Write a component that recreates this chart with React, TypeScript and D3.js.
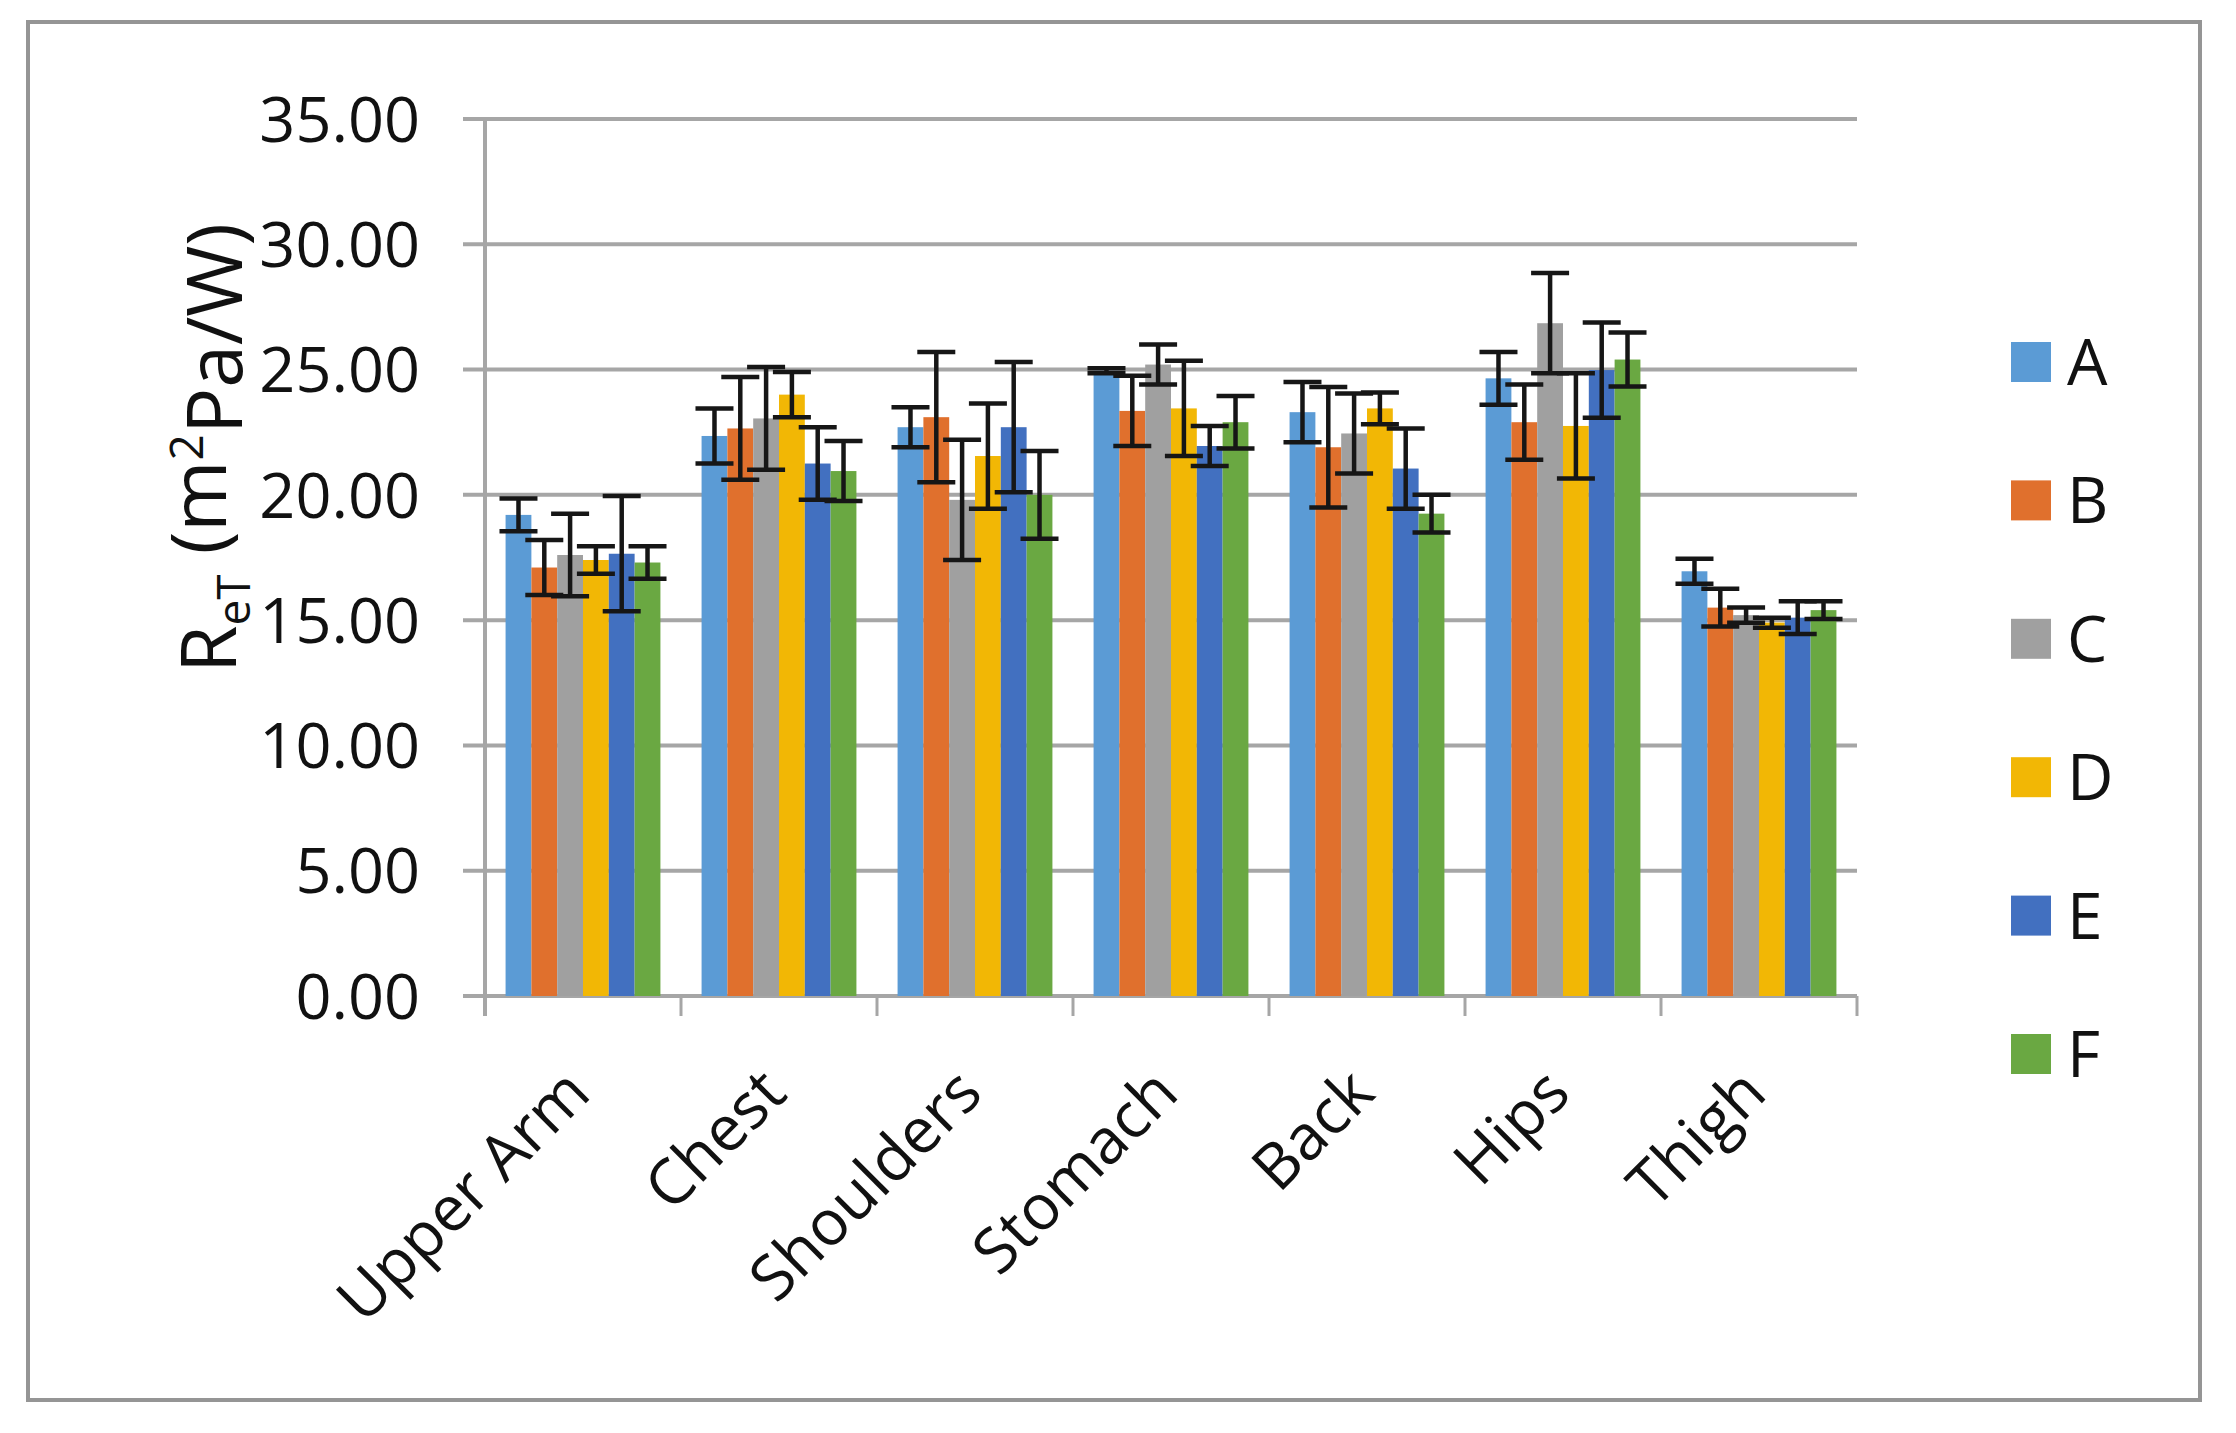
import * as d3 from "d3";

const categories = ["Upper Arm", "Chest", "Shoulders", "Stomach", "Back", "Hips", "Thigh"];
const seriesNames = ["A", "B", "C", "D", "E", "F"];

const valuesA = [19.2, 22.35, 22.7, 24.95, 23.3, 24.65, 16.95];
const valuesB = [17.1, 22.65, 23.1, 23.35, 21.9, 22.9, 15.5];
const valuesC = [17.6, 23.05, 19.8, 25.2, 22.45, 26.85, 15.2];
const valuesD = [17.4, 24.0, 21.55, 23.45, 23.45, 22.75, 14.9];
const valuesE = [17.65, 21.25, 22.7, 21.95, 21.05, 24.98, 15.1];
const valuesF = [17.3, 20.95, 20.0, 22.9, 19.25, 25.4, 15.4];

const errorsA = [0.65, 1.1, 0.8, 0.1, 1.2, 1.05, 0.5];
const errorsB = [1.1, 2.05, 2.6, 1.4, 2.4, 1.5, 0.75];
const errorsC = [1.65, 2.05, 2.4, 0.8, 1.6, 2.0, 0.3];
const errorsD = [0.55, 0.9, 2.1, 1.9, 0.63, 2.1, 0.2];
const errorsE = [2.3, 1.45, 2.6, 0.8, 1.6, 1.9, 0.65];
const errorsF = [0.65, 1.2, 1.75, 1.05, 0.75, 1.08, 0.35];

const yTicks = [0, 5, 10, 15, 20, 25, 30, 35];

const colors = ["#5b9bd5", "#e0702d", "#a0a0a0", "#f2b705", "#4270c0", "#6aa842"];

const values = [valuesA, valuesB, valuesC, valuesD, valuesE, valuesF];
const errors = [errorsA, errorsB, errorsC, errorsD, errorsE, errorsF];

const W = 2236;
const H = 1433;
const font = "'Open Sans', 'DejaVu Sans', sans-serif";

export default function App() {
    const x0 = d3.scaleBand<string>()
        .domain(categories)
        .range([485, 1857])
        .paddingInner(0.21)
        .paddingOuter(0.105);
    const x1 = d3.scaleBand<string>()
        .domain(seriesNames)
        .range([0, x0.bandwidth()]);
    const y = d3.scaleLinear().domain([0, 35]).range([996, 119]);
    const legendY = d3.scalePoint<string>().domain(seriesNames).range([362, 1054]);

    const step = x0.step();
    const left = x0.range()[0];
    const right = x0.range()[1];
    const boundaries = d3.range(categories.length + 1).map((i) => left + i * step);

    const grey = "#a6a6a6";

    return (
        <div style={{ position: "absolute", left: 0, top: 0 }}>
            <svg width={W} height={H} style={{ display: "block", background: "#fff" }}>
                <rect x={28} y={22} width={2172} height={1378} fill="none" stroke="#959595" strokeWidth={4} />

                {/* gridlines */}
                {yTicks.map((t) => (
                    <line key={t} x1={463} x2={right} y1={y(t)} y2={y(t)} stroke={grey} strokeWidth={4} />
                ))}
                {/* y axis */}
                <line x1={left} x2={left} y1={y(35)} y2={y(0) + 20} stroke={grey} strokeWidth={4} />
                {/* category ticks */}
                {boundaries.map((b, i) => (
                    <line key={i} x1={b} x2={b} y1={y(0)} y2={y(0) + 20} stroke={grey} strokeWidth={3} />
                ))}

                {/* bars */}
                {categories.map((c, ci) => (
                    <g key={c} transform={`translate(${x0(c)},0)`}>
                        {seriesNames.map((s, si) => (
                            <rect
                                key={s}
                                x={x1(s)}
                                y={y(values[si][ci])}
                                width={x1.bandwidth()}
                                height={y(0) - y(values[si][ci])}
                                fill={colors[si]}
                            />
                        ))}
                    </g>
                ))}

                {/* error bars */}
                {categories.map((c, ci) => (
                    <g key={c} transform={`translate(${x0(c)},0)`}>
                        {seriesNames.map((s, si) => {
                            const cx = (x1(s) ?? 0) + x1.bandwidth() / 2;
                            const v = values[si][ci];
                            const e = errors[si][ci];
                            return (
                                <g key={s} stroke="#161616" strokeWidth={4.5}>
                                    <line x1={cx} x2={cx} y1={y(v + e)} y2={y(v - e)} />
                                    <line x1={cx - 19} x2={cx + 19} y1={y(v + e)} y2={y(v + e)} />
                                    <line x1={cx - 19} x2={cx + 19} y1={y(v - e)} y2={y(v - e)} />
                                </g>
                            );
                        })}
                    </g>
                ))}

                {/* y tick labels */}
                {yTicks.map((t) => (
                    <text
                        key={t}
                        x={420}
                        y={y(t)}
                        dy="0.36em"
                        textAnchor="end"
                        fontFamily={font}
                        fontSize={63}
                        fill="#111"
                    >
                        {d3.format(".2f")(t)}
                    </text>
                ))}

                {/* x labels */}
                {categories.map((c) => {
                    const cx = (x0(c) ?? 0) + x0.bandwidth() / 2;
                    return (
                        <text
                            key={c}
                            transform={`translate(${cx - 6},${y(0) + 84}) rotate(-45)`}
                            textAnchor="end"
                            dy="0.36em"
                            fontFamily={font}
                            fontSize={63}
                            fill="#111"
                        >
                            {c}
                        </text>
                    );
                })}

                {/* y title */}
                <text
                    transform={`translate(208,448) rotate(-90)`}
                    textAnchor="middle"
                    dy="0.36em"
                    fontFamily={font}
                    fontSize={77}
                    fill="#111"
                >
                    R<tspan fontSize={46} dy="0.3em">eT</tspan>
                    <tspan dy="-0.3em"> (m</tspan>
                    <tspan fontSize={46} dy="-0.5em">2</tspan>
                    <tspan dy="0.5em">Pa/W)</tspan>
                </text>

                {/* legend */}
                {seriesNames.map((s, si) => (
                    <g key={s} transform={`translate(2011,${legendY(s)})`}>
                        <rect x={0} y={-20} width={40} height={40} fill={colors[si]} />
                        <text x={56} y={0} dy="0.36em" fontFamily={font} fontSize={64} fill="#111">
                            {s}
                        </text>
                    </g>
                ))}
            </svg>
        </div>
    );
}
